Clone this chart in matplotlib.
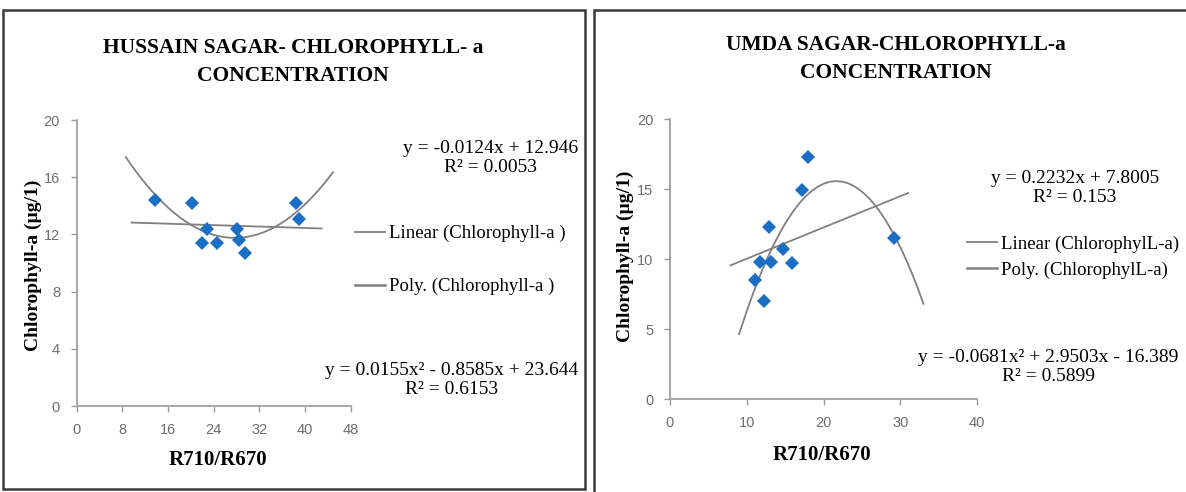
import numpy as np
import matplotlib
matplotlib.use('Agg')
import matplotlib.pyplot as plt
from matplotlib.patches import Rectangle
from matplotlib.lines import Line2D

# Hussain Sagar: R710/R670 vs chlorophyll-a
hs_ratio = [13.7, 20.2, 22.8, 22.0, 24.6, 28.0, 28.5, 29.5, 38.4, 38.9]
hs_chl = [14.4, 14.2, 12.4, 11.4, 11.4, 12.4, 11.6, 10.7, 14.2, 13.1]
hs_lin = [-0.0124, 12.946]
hs_poly = [0.0155, -0.8585, 23.644]
hs_lin_span = [9.6, 42.9]
hs_poly_span = [8.6, 44.9]

# Umda Sagar
um_ratio = [17.9, 17.2, 12.85, 14.75, 11.7, 13.15, 15.9, 11.07, 12.24, 29.2]
um_chl = [17.3, 14.9, 12.3, 10.7, 9.8, 9.8, 9.74, 8.53, 7.04, 11.5]
um_lin = [0.2232, 7.8005]
um_poly = [-0.0681, 2.9503, -16.389]
um_lin_span = [7.9, 31.0]
um_poly_span = [9.0, 33.0]

W, H = 1186, 492
BLUE = '#1a6fc4'
TREND = '#808080'
TICK = '#6e6e6e'
SERIF = ['Liberation Serif', 'DejaVu Serif']
NARROW = ['Liberation Sans Narrow', 'Liberation Sans', 'DejaVu Sans']

fig = plt.figure(figsize=(W / 100, H / 100), dpi=100)
fig.patch.set_facecolor('white')


def fx(px):
    return px / W


def fy(py):
    return 1 - py / H


def axes_px(x0, x1, y_top, y_bot):
    return fig.add_axes([fx(x0), fy(y_bot), fx(x1) - fx(x0), fy(y_top) - fy(y_bot)])


def style_axes(ax, xmax, xstep, ymax, ystep):
    ax.set_xlim(0, xmax)
    ax.set_ylim(0, ymax)
    ax.set_xticks(np.arange(0, xmax + 1, xstep))
    ax.set_yticks(np.arange(0, ymax + 1, ystep))
    for s in ['top', 'right']:
        ax.spines[s].set_visible(False)
    for s in ['left', 'bottom']:
        ax.spines[s].set_color('#9a9a9a')
        ax.spines[s].set_linewidth(1.2)
    ax.tick_params(direction='out', length=4, width=1, color='#9a9a9a',
                   labelcolor=TICK, labelsize=10.5, pad=8)
    for lab in ax.get_xticklabels() + ax.get_yticklabels():
        lab.set_family(NARROW)
    ax.patch.set_alpha(0)


def draw_panel(ax, xs, ys, lin, lin_span, poly, poly_span):
    t = np.linspace(lin_span[0], lin_span[1], 50)
    ax.plot(t, np.polyval(lin, t), color=TREND, lw=1.3, zorder=2)
    t = np.linspace(poly_span[0], poly_span[1], 200)
    ax.plot(t, np.polyval(poly, t), color=TREND, lw=1.3, zorder=2)
    ax.plot(xs, ys, 'D', color=BLUE, markersize=7.5, markeredgewidth=0, zorder=3)


# panel frames
fig.add_artist(Rectangle((fx(3), fy(489)), fx(585) - fx(3), fy(10) - fy(489),
                         transform=fig.transFigure, fill=False, edgecolor='#3a3a3a', lw=1.8))
fig.add_artist(Rectangle((fx(594), fy(500)), fx(1200) - fx(594), fy(10) - fy(500),
                         transform=fig.transFigure, fill=False, edgecolor='#3a3a3a', lw=1.8))

# left chart
ax1 = axes_px(76.7, 350.7, 120, 406)
style_axes(ax1, 48, 8, 20, 4)
draw_panel(ax1, hs_ratio, hs_chl, hs_lin, hs_lin_span, hs_poly, hs_poly_span)

fig.text(fx(293), fy(62), 'HUSSAIN SAGAR- CHLOROPHYLL- a\nCONCENTRATION', ha='center', va='center',
         family=SERIF, fontweight='bold', fontsize=15.5, linespacing=1.5)
fig.text(fx(218), fy(460), 'R710/R670', ha='center', va='center',
         family=SERIF, fontweight='bold', fontsize=15)
fig.text(fx(33), fy(265), 'Chlorophyll-a (µg/1)', ha='center', va='center', rotation=90,
         family=SERIF, fontweight='bold', fontsize=14)
fig.text(fx(578), fy(158), 'y = -0.0124x + 12.946\nR² = 0.0053', ha='right', va='center',
         multialignment='center', family=SERIF, fontsize=14, linespacing=1.15)
fig.text(fx(578), fy(380), 'y = 0.0155x² - 0.8585x + 23.644\nR² = 0.6153', ha='right', va='center',
         multialignment='center', family=SERIF, fontsize=14, linespacing=1.15)

h1 = [Line2D([], [], color=TREND, lw=1.3), Line2D([], [], color=TREND, lw=1.8)]
fig.legend(h1, ['Linear (Chlorophyll-a )', 'Poly. (Chlorophyll-a )'],
           loc='center left', bbox_to_anchor=(fx(346), fy(260)), frameon=False,
           prop={'family': SERIF, 'size': 13.5}, handlelength=1.6, handletextpad=0.2,
           labelspacing=1.9, borderpad=0)

# right chart
ax2 = axes_px(670, 977.3, 119, 399.3)
style_axes(ax2, 40, 10, 20, 5)
draw_panel(ax2, um_ratio, um_chl, um_lin, um_lin_span, um_poly, um_poly_span)

fig.text(fx(896), fy(59), 'UMDA SAGAR-CHLOROPHYLL-a\nCONCENTRATION', ha='center', va='center',
         family=SERIF, fontweight='bold', fontsize=15.5, linespacing=1.5)
fig.text(fx(822), fy(455), 'R710/R670', ha='center', va='center',
         family=SERIF, fontweight='bold', fontsize=15)
fig.text(fx(625), fy(256), 'Chlorophyll-a (µg/1)', ha='center', va='center', rotation=90,
         family=SERIF, fontweight='bold', fontsize=14)
fig.text(fx(1075), fy(188), 'y = 0.2232x + 7.8005\nR² = 0.153', ha='center', va='center',
         multialignment='center', family=SERIF, fontsize=14, linespacing=1.15)
fig.text(fx(1048), fy(367), 'y = -0.0681x² + 2.9503x - 16.389\nR² = 0.5899', ha='center', va='center',
         multialignment='center', family=SERIF, fontsize=14, linespacing=1.15)

h2 = [Line2D([], [], color=TREND, lw=1.3), Line2D([], [], color=TREND, lw=1.8)]
fig.legend(h2, ['Linear (ChlorophylL-a)', 'Poly. (ChlorophylL-a)'],
           loc='center left', bbox_to_anchor=(fx(958), fy(257)), frameon=False,
           prop={'family': SERIF, 'size': 13.5}, handlelength=1.6, handletextpad=0.2,
           labelspacing=0.45, borderpad=0)

plt.savefig('out.png', dpi=100)
